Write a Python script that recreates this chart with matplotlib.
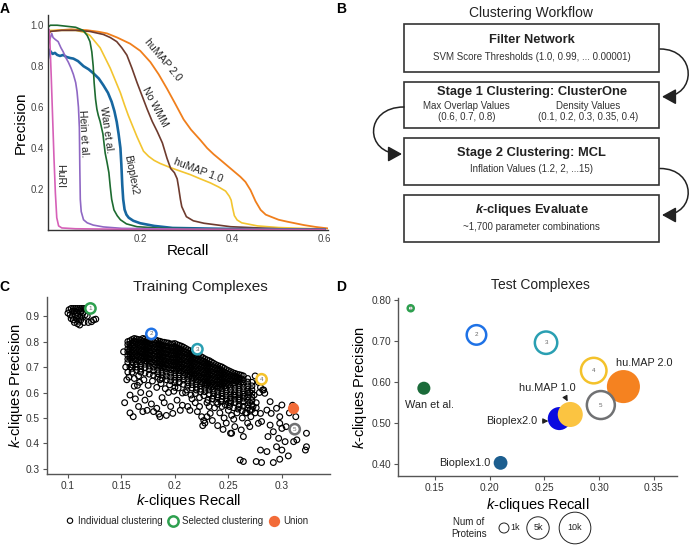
import matplotlib
matplotlib.use("Agg")
import matplotlib.pyplot as plt
from matplotlib.patches import Rectangle, FancyArrowPatch
from matplotlib.path import Path

plt.rcParams['font.family'] = ['Liberation Sans', 'DejaVu Sans']
plt.rcParams['mathtext.fontset'] = 'custom'
plt.rcParams['mathtext.rm'] = 'Liberation Sans'
plt.rcParams['mathtext.it'] = 'Liberation Sans:italic'
plt.rcParams['mathtext.bf'] = 'Liberation Sans:bold'
plt.rcParams['mathtext.bfit'] = 'Liberation Sans:italic:bold'

# ---------------- panel A: precision / recall curves ----------------
huri_recall = [0.0, 0.002, 0.004, 0.007, 0.010, 0.013, 0.016, 0.019, 0.023, 0.030, 0.06, 0.2, 0.4, 0.6]
huri_precision = [0.95, 0.98, 0.93, 0.75, 0.55, 0.35, 0.18, 0.06, 0.02, 0.01, 0.006, 0.003, 0.002, 0.002]

hein_recall = [0.0, 0.004, 0.008, 0.011, 0.016, 0.022, 0.028, 0.033, 0.039, 0.044, 0.050, 0.055,
               0.060, 0.063, 0.066, 0.068, 0.069, 0.070, 0.072, 0.077, 0.085, 0.098, 0.12, 0.16, 0.3, 0.6]
hein_precision = [0.90, 0.93, 0.96, 0.94, 0.93, 0.92, 0.89, 0.87, 0.84, 0.82, 0.79, 0.76,
                  0.72, 0.675, 0.60, 0.50, 0.30, 0.15, 0.09, 0.05, 0.035, 0.024, 0.015, 0.008, 0.004, 0.002]

wan_recall = [0.0, 0.005, 0.02, 0.04, 0.06, 0.076, 0.085, 0.091, 0.095, 0.098, 0.100, 0.103, 0.106,
              0.109, 0.113, 0.119, 0.124, 0.128, 0.132, 0.135, 0.138, 0.143, 0.150, 0.157, 0.17, 0.193,
              0.25, 0.4, 0.6]
wan_precision = [0.99, 1.0, 1.0, 0.995, 0.99, 0.975, 0.95, 0.92, 0.87, 0.80, 0.72, 0.64, 0.59,
                 0.56, 0.53, 0.47, 0.375, 0.33, 0.28, 0.21, 0.15, 0.098, 0.07, 0.05, 0.03, 0.016,
                 0.008, 0.004, 0.002]

bioplex2_recall = [0.0, 0.003, 0.006, 0.010, 0.015, 0.020, 0.026, 0.033, 0.040, 0.048, 0.055, 0.065,
                   0.077, 0.088, 0.099, 0.110, 0.120, 0.130, 0.138, 0.144, 0.149, 0.153, 0.157, 0.159,
                   0.161, 0.163, 0.166, 0.170, 0.175, 0.185, 0.2, 0.23, 0.27, 0.4, 0.6]
bioplex2_precision = [0.84, 0.88, 0.87, 0.86, 0.865, 0.855, 0.85, 0.855, 0.845, 0.84, 0.837, 0.825,
                      0.80, 0.785, 0.764, 0.74, 0.707, 0.67, 0.626, 0.58, 0.528, 0.47, 0.40, 0.32,
                      0.22, 0.15, 0.10, 0.075, 0.06, 0.045, 0.033, 0.02, 0.01, 0.005, 0.002]

nowmm_recall = [0.0, 0.005, 0.03, 0.06, 0.09, 0.12, 0.135, 0.149, 0.160, 0.171, 0.182, 0.193, 0.204,
                0.215, 0.226, 0.237, 0.248, 0.258, 0.266, 0.274, 0.280, 0.283, 0.287, 0.290, 0.300,
                0.315, 0.338, 0.396, 0.5, 0.6]
nowmm_precision = [0.96, 0.97, 0.975, 0.975, 0.97, 0.955, 0.94, 0.92, 0.89, 0.854, 0.79, 0.72, 0.655,
                   0.59, 0.53, 0.48, 0.425, 0.35, 0.30, 0.28, 0.25, 0.21, 0.15, 0.114, 0.065,
                   0.045, 0.033, 0.016, 0.006, 0.003]

humap1_recall = [0.0, 0.005, 0.03, 0.06, 0.08, 0.091, 0.102, 0.113, 0.124, 0.135, 0.146, 0.157, 0.166,
                 0.174, 0.183, 0.193, 0.200, 0.207, 0.218, 0.230, 0.243, 0.265, 0.290, 0.309, 0.330,
                 0.352, 0.370, 0.385, 0.393, 0.397, 0.400, 0.404, 0.410, 0.420, 0.454, 0.5, 0.55, 0.6]
humap1_precision = [0.97, 0.975, 0.975, 0.975, 0.965, 0.95, 0.92, 0.89, 0.84, 0.79, 0.73, 0.67, 0.61,
                    0.56, 0.51, 0.455, 0.42, 0.385, 0.36, 0.34, 0.325, 0.305, 0.285, 0.27, 0.25,
                    0.23, 0.21, 0.19, 0.165, 0.146, 0.11, 0.07, 0.049, 0.035, 0.02, 0.012, 0.008, 0.005]

humap2_recall = [0.0, 0.005, 0.02, 0.05, 0.084, 0.11, 0.128, 0.15, 0.178, 0.2, 0.222, 0.24, 0.258,
                 0.275, 0.294, 0.31, 0.33, 0.345, 0.359, 0.375, 0.396, 0.417, 0.428, 0.439, 0.45,
                 0.461, 0.472, 0.483, 0.5, 0.52, 0.555, 0.58, 0.606]
humap2_precision = [0.95, 0.97, 0.975, 0.98, 0.976, 0.968, 0.96, 0.94, 0.91, 0.875, 0.82, 0.76, 0.69,
                    0.62, 0.54, 0.49, 0.44, 0.40, 0.37, 0.34, 0.30, 0.26, 0.235, 0.195, 0.14,
                    0.098, 0.075, 0.065, 0.05, 0.04, 0.024, 0.015, 0.008]

# ---------------- panel C: training complexes ----------------
corner_recall = [0.101, 0.103, 0.105, 0.107, 0.109, 0.111, 0.113, 0.115, 0.117, 0.104, 0.106, 0.108,
                 0.110, 0.112, 0.114, 0.102, 0.104, 0.107, 0.109, 0.111, 0.113, 0.116, 0.103, 0.105,
                 0.108, 0.110, 0.112, 0.106, 0.109, 0.111, 0.115, 0.119, 0.122, 0.124, 0.118, 0.100,
                 0.126]
corner_precision = [0.925, 0.930, 0.930, 0.930, 0.930, 0.930, 0.930, 0.930, 0.928, 0.918, 0.920, 0.915,
                    0.922, 0.918, 0.912, 0.905, 0.900, 0.905, 0.900, 0.895, 0.900, 0.905, 0.890, 0.885,
                    0.890, 0.880, 0.885, 0.875, 0.870, 0.865, 0.875, 0.875, 0.878, 0.885, 0.900, 0.912,
                    0.888]

# dense band, one column of precision values per recall value
band_recall = [0.156, 0.160, 0.164, 0.168, 0.172, 0.176, 0.180, 0.184, 0.188, 0.192, 0.196, 0.200,
               0.204, 0.208, 0.212, 0.216, 0.220, 0.224, 0.228, 0.232, 0.236, 0.240, 0.244, 0.248,
               0.252, 0.256, 0.260, 0.264, 0.268, 0.272]
band_precision = [
    [0.800, 0.788, 0.772, 0.760, 0.745, 0.731, 0.718],
    [0.808, 0.795, 0.781, 0.766, 0.752, 0.737, 0.722, 0.708, 0.695],
    [0.810, 0.799, 0.785, 0.770, 0.757, 0.743, 0.728, 0.713, 0.700, 0.688],
    [0.806, 0.792, 0.778, 0.763, 0.749, 0.735, 0.721, 0.706, 0.692, 0.680],
    [0.810, 0.797, 0.783, 0.768, 0.754, 0.740, 0.725, 0.711, 0.697, 0.676],
    [0.804, 0.790, 0.776, 0.762, 0.747, 0.733, 0.718, 0.704, 0.690, 0.672],
    [0.800, 0.786, 0.772, 0.757, 0.743, 0.729, 0.714, 0.700, 0.685, 0.668],
    [0.803, 0.789, 0.775, 0.760, 0.746, 0.732, 0.717, 0.703, 0.688, 0.674, 0.660],
    [0.798, 0.784, 0.770, 0.755, 0.741, 0.726, 0.712, 0.698, 0.683, 0.669, 0.655],
    [0.795, 0.781, 0.766, 0.752, 0.737, 0.723, 0.709, 0.694, 0.680, 0.665, 0.650],
    [0.790, 0.776, 0.762, 0.748, 0.733, 0.719, 0.704, 0.690, 0.676, 0.661, 0.646],
    [0.792, 0.778, 0.763, 0.749, 0.735, 0.720, 0.706, 0.691, 0.677, 0.663, 0.648, 0.638],
    [0.785, 0.771, 0.757, 0.742, 0.728, 0.713, 0.699, 0.685, 0.670, 0.656, 0.641],
    [0.778, 0.764, 0.750, 0.735, 0.721, 0.707, 0.692, 0.678, 0.663, 0.649, 0.632],
    [0.768, 0.754, 0.740, 0.725, 0.711, 0.697, 0.682, 0.668, 0.653, 0.639, 0.625],
    [0.760, 0.746, 0.731, 0.717, 0.703, 0.688, 0.674, 0.659, 0.645, 0.631, 0.618],
    [0.750, 0.736, 0.722, 0.707, 0.693, 0.678, 0.664, 0.650, 0.635, 0.621, 0.610],
    [0.742, 0.728, 0.713, 0.699, 0.685, 0.670, 0.656, 0.641, 0.627, 0.613, 0.603],
    [0.732, 0.718, 0.704, 0.689, 0.675, 0.660, 0.646, 0.632, 0.617, 0.603],
    [0.725, 0.711, 0.697, 0.682, 0.668, 0.653, 0.639, 0.625, 0.610, 0.595],
    [0.715, 0.701, 0.686, 0.672, 0.658, 0.643, 0.629, 0.614, 0.600, 0.586],
    [0.706, 0.692, 0.677, 0.663, 0.649, 0.634, 0.620, 0.605, 0.591, 0.580],
    [0.700, 0.686, 0.671, 0.657, 0.642, 0.628, 0.614, 0.599, 0.585, 0.574],
    [0.690, 0.676, 0.661, 0.647, 0.633, 0.618, 0.604, 0.589, 0.575, 0.566],
    [0.682, 0.667, 0.653, 0.639, 0.624, 0.610, 0.595, 0.581, 0.567, 0.558],
    [0.675, 0.661, 0.646, 0.632, 0.617, 0.603, 0.589, 0.574, 0.560],
    [0.670, 0.655, 0.641, 0.627, 0.612, 0.598, 0.583, 0.569, 0.552],
    [0.665, 0.650, 0.636, 0.621, 0.607, 0.593, 0.578, 0.564, 0.546],
    [0.655, 0.641, 0.626, 0.612, 0.598, 0.583, 0.569, 0.552, 0.538],
    [0.640, 0.626, 0.611, 0.597, 0.582, 0.568, 0.551, 0.533],
]

# the darkest upper part of the band, read between the columns above
core_recall = [0.158, 0.162, 0.166, 0.170, 0.174, 0.178, 0.182, 0.186, 0.190, 0.194, 0.198, 0.202,
               0.206, 0.210, 0.214, 0.218, 0.222, 0.226, 0.230, 0.234, 0.238, 0.242, 0.246, 0.250,
               0.254, 0.258, 0.262]
core_precision = [
    [0.803, 0.790, 0.776, 0.762, 0.748, 0.734],
    [0.812, 0.802, 0.788, 0.774, 0.760, 0.745, 0.730],
    [0.808, 0.795, 0.781, 0.767, 0.753, 0.739, 0.725],
    [0.812, 0.800, 0.786, 0.772, 0.758, 0.744, 0.730],
    [0.807, 0.793, 0.779, 0.765, 0.751, 0.737, 0.722],
    [0.803, 0.789, 0.775, 0.761, 0.747, 0.733, 0.719],
    [0.806, 0.792, 0.778, 0.764, 0.750, 0.736, 0.722, 0.708],
    [0.801, 0.787, 0.773, 0.759, 0.745, 0.731, 0.717, 0.703],
    [0.797, 0.783, 0.769, 0.755, 0.741, 0.727, 0.713, 0.699],
    [0.794, 0.780, 0.766, 0.752, 0.738, 0.724, 0.710, 0.696],
    [0.791, 0.777, 0.763, 0.749, 0.735, 0.721, 0.707, 0.693],
    [0.788, 0.774, 0.760, 0.746, 0.732, 0.718, 0.704, 0.690],
    [0.782, 0.768, 0.754, 0.740, 0.726, 0.712, 0.698, 0.684],
    [0.773, 0.759, 0.745, 0.731, 0.717, 0.703, 0.689, 0.675],
    [0.764, 0.750, 0.736, 0.722, 0.708, 0.694, 0.680, 0.666],
    [0.755, 0.741, 0.727, 0.713, 0.699, 0.685, 0.671, 0.657],
    [0.746, 0.732, 0.718, 0.704, 0.690, 0.676, 0.662, 0.648],
    [0.737, 0.723, 0.709, 0.695, 0.681, 0.667, 0.653, 0.639],
    [0.728, 0.714, 0.700, 0.686, 0.672, 0.658, 0.644, 0.630],
    [0.720, 0.706, 0.692, 0.678, 0.664, 0.650, 0.636, 0.622],
    [0.710, 0.696, 0.682, 0.668, 0.654, 0.640, 0.626],
    [0.703, 0.689, 0.675, 0.661, 0.647, 0.633, 0.619],
    [0.695, 0.681, 0.667, 0.653, 0.639, 0.625],
    [0.686, 0.672, 0.658, 0.644, 0.630],
    [0.678, 0.664, 0.650, 0.636],
    [0.672, 0.658, 0.644],
    [0.668, 0.654, 0.640],
]

sparse_points = [
    (0.152, 0.760), (0.155, 0.650), (0.158, 0.700), (0.160, 0.680), (0.162, 0.625), (0.165, 0.628),
    (0.158, 0.590), (0.153, 0.560), (0.158, 0.520), (0.161, 0.505), (0.163, 0.575), (0.166, 0.545),
    (0.168, 0.600), (0.170, 0.525), (0.172, 0.570), (0.174, 0.530), (0.176, 0.595), (0.178, 0.555),
    (0.180, 0.525), (0.183, 0.538), (0.185, 0.515), (0.186, 0.505), (0.188, 0.580), (0.190, 0.560),
    (0.192, 0.510), (0.194, 0.600), (0.196, 0.545), (0.198, 0.518), (0.200, 0.620), (0.202, 0.570),
    (0.205, 0.530), (0.207, 0.550), (0.210, 0.600), (0.212, 0.545), (0.214, 0.530), (0.216, 0.575),
    (0.219, 0.560), (0.221, 0.525), (0.223, 0.545), (0.225, 0.505), (0.227, 0.490), (0.226, 0.470),
    (0.228, 0.480), (0.230, 0.560), (0.232, 0.545), (0.233, 0.518), (0.235, 0.575), (0.237, 0.540),
    (0.240, 0.555), (0.242, 0.520), (0.244, 0.545), (0.246, 0.500), (0.248, 0.480), (0.250, 0.530),
    (0.252, 0.440), (0.253, 0.510), (0.255, 0.495), (0.256, 0.466), (0.258, 0.520), (0.260, 0.545),
    (0.262, 0.453), (0.264, 0.427), (0.263, 0.500), (0.266, 0.520), (0.268, 0.480), (0.270, 0.466),
    (0.271, 0.505), (0.273, 0.545), (0.275, 0.520), (0.276, 0.560), (0.278, 0.479), (0.279, 0.600),
    (0.280, 0.518), (0.281, 0.486), (0.282, 0.610), (0.284, 0.597), (0.286, 0.531), (0.287, 0.427),
    (0.289, 0.472), (0.289, 0.564), (0.290, 0.518), (0.292, 0.446), (0.295, 0.538), (0.297, 0.420),
    (0.298, 0.479), (0.298, 0.505), (0.300, 0.551), (0.300, 0.459), (0.303, 0.407), (0.304, 0.466),
    (0.295, 0.387), (0.300, 0.374), (0.311, 0.407), (0.314, 0.414), (0.323, 0.440), (0.323, 0.387),
    (0.322, 0.374), (0.280, 0.374), (0.286, 0.368), (0.306, 0.351), (0.298, 0.338), (0.292, 0.325),
    (0.281, 0.325), (0.276, 0.329), (0.264, 0.329), (0.261, 0.335), (0.253, 0.440), (0.240, 0.470),
    (0.245, 0.455), (0.235, 0.490), (0.230, 0.505), (0.270, 0.560), (0.265, 0.585), (0.260, 0.575),
    (0.255, 0.590), (0.250, 0.560), (0.310, 0.550), (0.307, 0.520), (0.313, 0.505), (0.275, 0.665),
    (0.278, 0.640), (0.280, 0.620), (0.283, 0.610), (0.270, 0.600), (0.274, 0.590),
    (0.162, 0.655), (0.167, 0.640), (0.171, 0.650), (0.175, 0.628), (0.179, 0.645), (0.183, 0.620),
    (0.187, 0.635), (0.191, 0.615), (0.195, 0.630), (0.199, 0.605), (0.203, 0.618), (0.207, 0.598),
    (0.211, 0.610), (0.215, 0.590), (0.219, 0.596), (0.223, 0.580), (0.227, 0.588), (0.231, 0.570),
    (0.235, 0.575), (0.239, 0.562), (0.243, 0.565), (0.247, 0.552), (0.251, 0.545), (0.255, 0.540),
    (0.259, 0.535), (0.263, 0.528), (0.267, 0.520), (0.276, 0.540), (0.270, 0.530), (0.154, 0.700),
    (0.156, 0.680), (0.157, 0.660), (0.166, 0.665), (0.186, 0.650), (0.204, 0.640),
]

selected_labels = ['1', '2', '3', '4', '5']
selected_colors = ['#2ea04f', '#1f72e6', '#2a9fb2', '#f4c22b', '#707173']
train_sel_recall = [0.121, 0.178, 0.221, 0.281, 0.312]
train_sel_precision = [0.930, 0.830, 0.770, 0.652, 0.456]
union_recall = [0.310]
union_precision = [0.540]

# ---------------- panel D: test complexes ----------------
test_sel_recall = [0.128, 0.188, 0.2515, 0.295, 0.3015]
test_sel_precision = [0.780, 0.715, 0.696, 0.628, 0.544]
test_sel_proteins = [360, 3800, 5000, 6500, 7800]

pub_names = ['Wan et al.', 'Bioplex1.0', 'Bioplex2.0', 'hu.MAP 1.0', 'hu.MAP 2.0']
pub_colors = ['#1b6b3a', '#1c5e8f', '#0a0ae0', '#fbc441', '#f58220']
pub_recall = [0.140, 0.210, 0.2636, 0.2736, 0.3221]
pub_precision = [0.585, 0.403, 0.511, 0.521, 0.589]
pub_proteins = [1700, 1900, 5300, 6250, 10900]

legend_proteins = [1000, 5000, 10000]
legend_labels = ['1k', '5k', '10k']

W, H = 689, 545
fig = plt.figure(figsize=(W / 100, H / 100), dpi=100)


def px_axes(left, top, right, bottom):
    return fig.add_axes([left / W, 1 - bottom / H, (right - left) / W, (bottom - top) / H])


def protein_size(n):
    return 0.052 * n


bg = fig.add_axes([0, 0, 1, 1])
bg.set_xlim(0, W)
bg.set_ylim(H, 0)
bg.axis('off')

for lab, x, y in [('A', 5, 9), ('B', 341, 9), ('C', 4, 287), ('D', 341, 287)]:
    bg.text(x, y, lab, fontsize=10, fontweight='bold', ha='center', va='center')

# ---- A ----
axA = px_axes(48, 15, 328, 230)
curves = [
    (humap2_recall, humap2_precision, '#f07f1c', 1.3),
    (humap1_recall, humap1_precision, '#f3c530', 1.2),
    (nowmm_recall, nowmm_precision, '#6e3b2e', 1.2),
    (bioplex2_recall, bioplex2_precision, '#1767a0', 1.9),
    (wan_recall, wan_precision, '#1d6b30', 1.2),
    (hein_recall, hein_precision, '#8f68c4', 1.2),
    (huri_recall, huri_precision, '#d660b8', 1.2),
]
for rec, prec, col, lw in curves:
    axA.plot(rec, prec, color=col, lw=lw, solid_joinstyle='round')

curve_labels = [
    ('huMAP 2.0', 0.249, 0.830, -50),
    ('No WMM', 0.232, 0.600, -62),
    ('huMAP 1.0', 0.326, 0.292, -21),
    ('Bioplex2', 0.180, 0.268, -79),
    ('Wan et al.', 0.127, 0.488, -82),
    ('Hein et al.', 0.077, 0.470, -87),
    ('HuRI', 0.026, 0.263, -90),
]
for txt, x, y, rot in curve_labels:
    axA.text(x, y, txt, rotation=rot, rotation_mode='anchor', ha='center', va='center',
             fontsize=7.6, color='#222222')

axA.set_xlim(0, 0.607)
axA.set_ylim(0, 1.05)
axA.set_xticks([0.2, 0.4, 0.6])
axA.set_xticklabels(['0.2', '0.4', '0.6'])
axA.set_yticks([0.2, 0.4, 0.6, 0.8, 1.0])
axA.set_yticklabels(['0.2', '0.4', '0.6', '0.8', '1.0'])
axA.tick_params(length=0, labelsize=7, labelcolor='#444444', pad=3)
for s in ['top', 'right']:
    axA.spines[s].set_visible(False)
for s in ['left', 'bottom']:
    axA.spines[s].set_color('#333333')
    axA.spines[s].set_linewidth(1.0)
axA.set_xlabel('Recall', fontsize=11, labelpad=0)
axA.set_ylabel('Precision', fontsize=11, labelpad=2)

# ---- B ----
bg.text(531, 13, 'Clustering Workflow', fontsize=10, ha='center', va='center', color='#222222')
boxes = [(24.3, 71.7), (81.7, 128.3), (138.3, 185.0), (195.0, 241.7)]
for top, bottom in boxes:
    bg.add_patch(Rectangle((404.3, top), 659 - 404.3, bottom - top, fill=False,
                           ec='#333333', lw=1.2))
cx = 531.7
bold = dict(fontsize=9.3, fontweight='bold', ha='center', va='center', color='#222222')
small = dict(fontsize=7, ha='center', va='center', color='#333333')
bg.text(cx, 40, 'Filter Network', **bold)
bg.text(cx, 56.7, 'SVM Score Thresholds (1.0, 0.99, ... 0.00001)', **small)
bg.text(cx, 92, 'Stage 1 Clustering: ClusterOne', **bold)
bg.text(466.7, 106, 'Max Overlap Values', **small)
bg.text(466.7, 117.5, '(0.6, 0.7, 0.8)', **small)
bg.text(588.3, 106, 'Density Values', **small)
bg.text(588.3, 117.5, '(0.1, 0.2, 0.3, 0.35, 0.4)', **small)
bg.text(cx, 153, 'Stage 2 Clustering: MCL', **bold)
bg.text(cx, 169, 'Inflation Values (1.2, 2, ...15)', **small)
bg.text(cx, 210, r'$\mathbfit{k}$-cliques Evaluate', **bold)
bg.text(cx, 226.7, '~1,700 parameter combinations', **small)


def curved_arrow(x0, y0, x1, y1, ctrl):
    path = Path([(x0, y0), (ctrl, y0), (ctrl, y1), (x1, y1)],
                [Path.MOVETO, Path.CURVE4, Path.CURVE4, Path.CURVE4])
    bg.add_patch(FancyArrowPatch(path=path, arrowstyle='-|>,head_length=0.85,head_width=0.47',
                                 mutation_scale=10, lw=1.1, color='#222222'))


curved_arrow(660, 49, 662, 96.7, 697)
curved_arrow(404, 107, 402, 154, 364)
curved_arrow(660, 168.5, 662, 215, 697)

# ---- C ----
axC = px_axes(47, 297, 330, 474)
all_rec = list(corner_recall)
all_prec = list(corner_precision)
for r, col in zip(band_recall, band_precision):
    all_rec += [r] * len(col)
    all_prec += col
for r, col in zip(core_recall, core_precision):
    all_rec += [r] * len(col)
    all_prec += col
all_rec += [p[0] for p in sparse_points]
all_prec += [p[1] for p in sparse_points]
axC.scatter(all_rec, all_prec, s=17, facecolors='none', edgecolors='black', linewidths=0.85, zorder=2)
axC.scatter(union_recall, union_precision, s=66, color='#f26b38', lw=0, zorder=3)
axC.scatter(train_sel_recall, train_sel_precision, s=55, facecolors='white',
            edgecolors=selected_colors, linewidths=1.8, zorder=4)
for lab, x, y in zip(selected_labels, train_sel_recall, train_sel_precision):
    axC.text(x, y, lab, fontsize=4.5, ha='center', va='center', color='#666666', zorder=5)
axC.set_xlim(0.0804, 0.345)
axC.set_ylim(0.28, 0.975)
axC.set_xticks([0.1, 0.15, 0.2, 0.25, 0.3])
axC.set_xticklabels(['0.1', '0.15', '0.2', '0.25', '0.3'])
axC.set_yticks([0.3, 0.4, 0.5, 0.6, 0.7, 0.8, 0.9])
axC.set_yticklabels(['0.3', '0.4', '0.5', '0.6', '0.7', '0.8', '0.9'])
bg.text(200, 287, 'Training Complexes', fontsize=11, ha='center', va='center', color='#222222')
axC.set_xlabel(r'$k$-cliques Recall', fontsize=10.7, labelpad=1)
axC.set_ylabel(r'$k$-cliques Precision', fontsize=10.7, labelpad=1)

bg.scatter([70], [520.7], s=15, facecolors='none', edgecolors='black', linewidths=0.8)
bg.text(78, 520.7, 'Individual clustering', fontsize=6.9, va='center', color='#222222')
bg.scatter([172.7], [520.7], s=55, facecolors='white', edgecolors=selected_colors[0], linewidths=1.8)
bg.text(182, 520.7, 'Selected clustering', fontsize=6.9, va='center', color='#222222')
bg.scatter([274], [520.7], s=66, color='#f26b38', lw=0)
bg.text(283, 520.7, 'Union', fontsize=6.9, va='center', color='#222222')

# ---- D ----
axD = px_axes(398, 298, 677, 476)
axD.scatter(pub_recall, pub_precision, s=[protein_size(n) for n in pub_proteins],
            color=pub_colors, lw=0, zorder=3)
axD.scatter(test_sel_recall, test_sel_precision, s=[protein_size(n) for n in test_sel_proteins],
            facecolors='none', edgecolors=selected_colors, linewidths=1.8, zorder=4)
for lab, x, y in zip(selected_labels, test_sel_recall, test_sel_precision):
    axD.text(x, y, lab, fontsize=4.5, ha='center', va='center', color='#666666', zorder=5)
ann = dict(fontsize=7.8, color='#222222')
axD.text(0.3409, 0.647, 'hu.MAP 2.0', ha='center', va='center', **ann)
axD.text(0.1455, 0.544, 'Wan et al.', ha='center', va='center', **ann)
axD.text(0.2004, 0.4024, 'Bioplex1.0', ha='right', va='center', **ann)
axD.annotate('hu.MAP 1.0', xy=(0.2712, 0.553), xytext=(0.2527, 0.5854), ha='center', va='center',
             arrowprops=dict(arrowstyle='-|>,head_length=0.4,head_width=0.2', color='#222222',
                             lw=0.8, relpos=(0.78, 0.0), shrinkA=1, shrinkB=0), **ann)
axD.annotate('Bioplex2.0', xy=(0.2536, 0.505), xytext=(0.2434, 0.505), ha='right', va='center',
             arrowprops=dict(arrowstyle='-|>,head_length=0.4,head_width=0.2', color='#222222',
                             lw=0.8, relpos=(1.0, 0.5), shrinkA=2, shrinkB=0), **ann)
axD.set_xlim(0.1164, 0.371)
axD.set_ylim(0.371, 0.805)
axD.set_xticks([0.15, 0.20, 0.25, 0.30, 0.35])
axD.set_xticklabels(['0.15', '0.20', '0.25', '0.30', '0.35'])
axD.set_yticks([0.4, 0.5, 0.6, 0.7, 0.8])
axD.set_yticklabels(['0.40', '0.50', '0.60', '0.70', '0.80'])
bg.text(540, 285, 'Test Complexes', fontsize=10, ha='center', va='center', color='#222222')
axD.set_xlabel(r'$k$-cliques Recall', fontsize=10.5, labelpad=2)
axD.set_ylabel(r'$k$-cliques Precision', fontsize=10.5, labelpad=2)

bg.text(469, 528, 'Num of\nProteins', fontsize=7, ha='center', va='center', linespacing=1.3,
        color='#222222')
legend_x = [504, 538, 575]
bg.scatter(legend_x, [528] * 3, s=[protein_size(n) for n in legend_proteins],
           facecolors='none', edgecolors='#222222', linewidths=0.7)
bg.text(510, 528, legend_labels[0], fontsize=6.5, va='center', color='#222222')
bg.text(538, 528, legend_labels[1], fontsize=6.5, ha='center', va='center', color='#222222')
bg.text(575, 528, legend_labels[2], fontsize=6.5, ha='center', va='center', color='#222222')

for ax in (axC, axD):
    for s in ['top', 'right']:
        ax.spines[s].set_visible(False)
    for s in ['left', 'bottom']:
        ax.spines[s].set_color('#555555')
        ax.spines[s].set_linewidth(1.0)
    ax.tick_params(length=3, width=0.8, color='#555555', labelsize=7.3, labelcolor='#333333', pad=2)
    ax.set_facecolor('none')

fig.savefig('out.png', dpi=100)
